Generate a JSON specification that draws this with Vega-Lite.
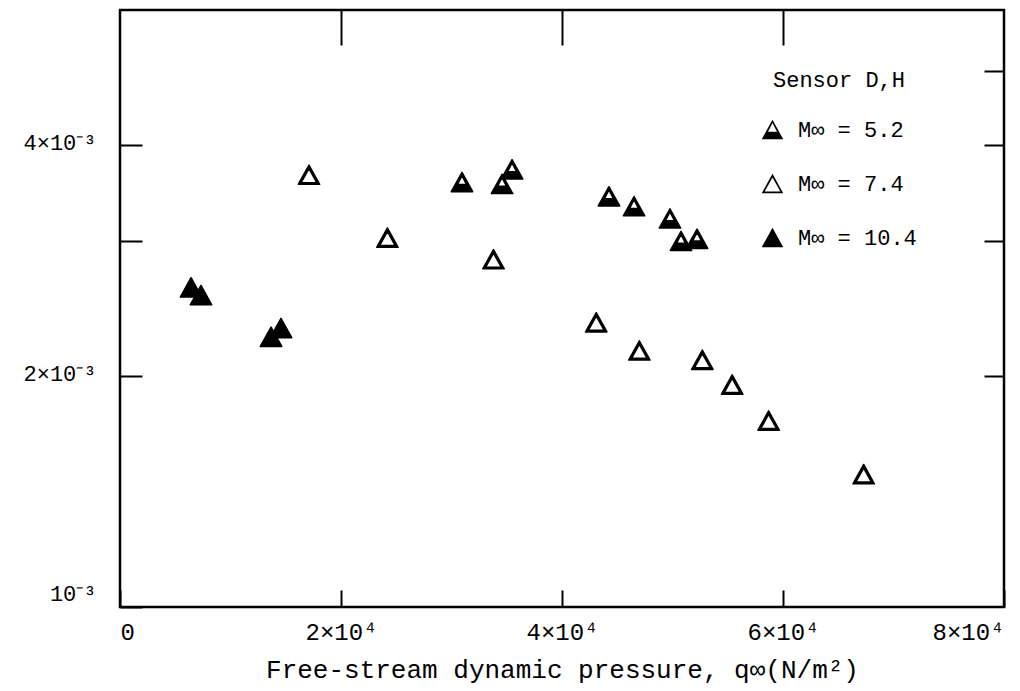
{
  "$schema": "https://vega.github.io/schema/vega-lite/v6.json",
  "width": 884,
  "height": 597,
  "autosize": {"type": "none"},
  "padding": {"left": 120, "top": 10, "right": 16, "bottom": 84},
  "background": "white",
  "config": {
    "view": {"stroke": "black", "strokeWidth": 2.5},
    "font": "Liberation Mono",
    "axis": {"labelFont": "Liberation Mono", "titleFont": "Liberation Mono", "labelColor": "black", "titleColor": "black", "tickColor": "black", "tickWidth": 2, "grid": false, "domain": false, "labelFontSize": 22, "titleFontSize": 26, "titleFontWeight": "normal"},
    "legend": {"labelFont": "Liberation Mono", "titleFont": "Liberation Mono"}
  },
  "data": {"values": [
    {"q": 30950, "cf": 0.00358, "M": "5.2"},
    {"q": 34570, "cf": 0.00356, "M": "5.2"},
    {"q": 35480, "cf": 0.00372, "M": "5.2"},
    {"q": 44250, "cf": 0.00343, "M": "5.2"},
    {"q": 46520, "cf": 0.00333, "M": "5.2"},
    {"q": 49770, "cf": 0.00321, "M": "5.2"},
    {"q": 50770, "cf": 0.00300, "M": "5.2"},
    {"q": 52220, "cf": 0.00302, "M": "5.2"},
    {"q": 17100, "cf": 0.00366, "M": "7.4"},
    {"q": 24200, "cf": 0.00303, "M": "7.4"},
    {"q": 33800, "cf": 0.00284, "M": "7.4"},
    {"q": 43100, "cf": 0.00235, "M": "7.4"},
    {"q": 47000, "cf": 0.00216, "M": "7.4"},
    {"q": 52700, "cf": 0.00210, "M": "7.4"},
    {"q": 55400, "cf": 0.00195, "M": "7.4"},
    {"q": 58700, "cf": 0.00175, "M": "7.4"},
    {"q": 67300, "cf": 0.00149, "M": "7.4"},
    {"q": 6430, "cf": 0.00261, "M": "10.4"},
    {"q": 7330, "cf": 0.00255, "M": "10.4"},
    {"q": 14570, "cf": 0.00231, "M": "10.4"},
    {"q": 13670, "cf": 0.00225, "M": "10.4"}
  ]},
  "resolve": {"axis": {"x": "independent", "y": "independent"}},
  "layer": [
    {
      "mark": {"type": "point", "filled": true, "color": "black", "stroke": "black", "strokeWidth": 1.5, "strokeJoin": "round", "size": 460, "opacity": 1},
      "encoding": {
        "x": {"field": "q", "type": "quantitative", "scale": {"domain": [0, 80000], "nice": false, "zero": false},
          "axis": {"orient": "bottom", "values": [0, 20000, 40000, 60000, 80000], "tickSize": -17, "labelPadding": 30, "labelFontSize": 24,
            "labelExpr": "datum.value == 0 ? '0' : (datum.value/10000) + '×10⁴'",
            "title": "Free-stream dynamic pressure, q∞(N/m²)", "titlePadding": 12}},
        "y": {"field": "cf", "type": "quantitative", "scale": {"type": "log", "domain": [0.001, 0.006], "nice": false, "zero": false},
          "axis": {"orient": "left", "values": [0.001, 0.002, 0.003, 0.004], "tickSize": -22, "labelPadding": 46,
            "labelOffset": {"condition": {"test": "datum.value < 0.0015", "value": -14}, "value": -3},
            "labelExpr": "datum.value < 0.0015 ? '10⁻³' : (datum.value > 0.0035 && datum.value < 0.0045 ? '4×10⁻³' : (datum.value > 0.0015 && datum.value < 0.0025 ? '2×10⁻³' : ''))",
            "title": null}},
        "shape": {"field": "M", "type": "nominal",
          "scale": {"domain": ["5.2", "7.4", "10.4"], "range": [
            "M0,-0.9L1,0.9L-1,0.9Z M0,-0.6L-0.42,0.22L0.42,0.22Z",
            "M0,-0.9L1,0.9L-1,0.9Z M0,-0.57L-0.728,0.74L0.728,0.74Z",
            "M0,-0.9L1,0.9L-1,0.9Z"]},
          "legend": {"orient": "none", "legendX": 641, "legendY": 60, "title": "Sensor D,H", "titleAnchor": "middle", "titleFontSize": 22, "titleFontWeight": "normal", "titleColor": "black", "titlePadding": 26, "labelFontSize": 22, "labelColor": "black", "labelOffset": 14, "rowPadding": 27, "symbolSize": 460, "symbolFillColor": "black", "symbolStrokeColor": "black", "symbolStrokeWidth": 1.5,
            "labelExpr": "'M∞ = ' + datum.label"}}
      }
    },
    {
      "mark": {"type": "point", "opacity": 0},
      "encoding": {
        "x": {"field": "q", "type": "quantitative",
          "axis": {"orient": "top", "values": [20000, 40000, 60000], "tickSize": -35, "labels": false, "title": null}},
        "y": {"field": "cf", "type": "quantitative",
          "axis": {"orient": "right", "values": [0.002, 0.003, 0.004, 0.005], "tickSize": -20, "labels": false, "title": null}}
      }
    }
  ]
}
